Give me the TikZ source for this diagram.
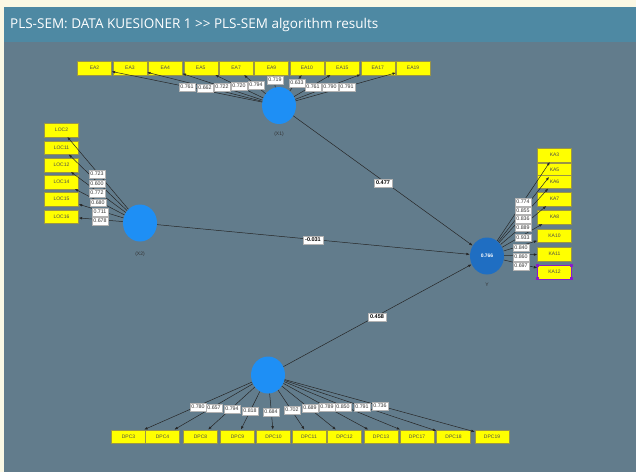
\documentclass[tikz,border=0pt]{standalone}
\usepackage{fontspec}
\usetikzlibrary{arrows.meta,shapes.geometric}
\newfontfamily\uifont{Open Sans}
\newfontfamily\lblfont{Liberation Sans}
\definecolor{frame}{HTML}{FBF8E4}
\definecolor{titlebar}{HTML}{4E89A3}
\definecolor{canvas}{HTML}{627C8C}
\definecolor{lvlight}{HTML}{1E8FF5}
\definecolor{lvdark}{HTML}{1F6EC2}
\definecolor{indfill}{HTML}{FFFF00}
\definecolor{selmark}{HTML}{8A1CC8}
\tikzset{
  ind/.style={rectangle, fill=indfill, draw=yellow!55!black, line width=0.3pt,
    minimum width=34pt, minimum height=13.5pt, inner sep=0pt,
    font=\lblfont\fontsize{5}{6}\selectfont, text=black!70},
  lv/.style={ellipse, fill=lvlight, minimum width=34pt, minimum height=37pt, inner sep=0pt},
  wt/.style={fill=white, draw=gray!60, line width=0.3pt, inner xsep=1.4pt, inner ysep=1.8pt,
    font=\lblfont\fontsize{5.3}{6}\selectfont, text=black!80},
  coef/.style={wt, font=\lblfont\bfseries\fontsize{5.5}{6}\selectfont, inner xsep=2pt, inner ysep=2pt, text=black},
  lvname/.style={font=\lblfont\fontsize{5}{6}\selectfont, text=black!80},
  link/.style={-{Latex[length=3.5pt,width=2.6pt]}, line width=0.5pt, draw=black!85},
  handle/.style={fill=selmark, minimum size=3pt, inner sep=0pt}
}
\begin{document}
\begin{tikzpicture}[x=1pt,y=-1pt]
\useasboundingbox (0,0) rectangle (636,472);
% window frame, title bar and canvas
\fill[frame] (0,0) rectangle (636,472);
\fill[titlebar] (4,7) rectangle (636,42);
\fill[canvas] (4,42) rectangle (636,472);
\node[anchor=west, text=white, font=\uifont\fontsize{13.5}{15}\selectfont, inner sep=0pt]
  (title) at (10,25) {PLS-SEM: DATA KUESIONER 1 >> PLS-SEM algorithm results};

% latent variables
\node[lv] (x1) at (279,105.5) {};
\node[lv] (x2) at (140,223) {};
\node[lv] (x3) at (268,375) {};
\node[lv, fill=lvdark] (y) at (487,256)
  {\textcolor{white}{\lblfont\bfseries\fontsize{5}{6}\selectfont 0.766}};
\node[lvname] (x1name) at (279,134) {(X1)};
\node[lvname] (x2name) at (140,254) {(X2)};
\node[lvname] (yname) at (487,285) {Y};

% top block of indicators
\foreach \n [count=\i from 0] in {EA2,EA3,EA4,EA5,EA7,EA9,EA10,EA15,EA17,EA19}
  \node[ind] (i-\n) at (94.5+35.4*\i,68) {\n};
% left block
\foreach \n/\yy in {LOC2/130,LOC11/147.5,LOC12/165,LOC14/182,LOC15/199,LOC16/216.5}
  \node[ind] (i-\n) at (61.5,\yy) {\n};
% right block
\foreach \n/\yy in {KA3/155,KA5/170,KA6/181.5,KA7/199,KA8/217,KA10/235.5,KA11/254}
  \node[ind] (i-\n) at (554.5,\yy) {\n};
\node[ind, draw=selmark] (i-KA12) at (554.5,272) {KA12};
\foreach \a in {north west,north east,south west,south east}
  \node[handle] at (i-KA12.\a) {};
% bottom block
\foreach \n/\xx in {DPC3/128.5,DPC4/162.5,DPC8/200.5,DPC9/237.5,DPC10/273.5,DPC11/309,
                    DPC12/344.5,DPC13/381,DPC17/417,DPC18/453.5,DPC19/492}
  \node[ind] (i-\n) at (\xx,436.5) {\n};

% measurement arrows
\foreach \n in {EA2,EA3,EA4,EA5,EA7,EA9,EA10,EA15,EA17,EA19}
  \draw[link] (x1) -- (i-\n);
\foreach \n in {LOC2,LOC11,LOC12,LOC14,LOC15,LOC16}
  \draw[link] (x2) -- (i-\n);
\foreach \n in {KA3,KA5,KA6,KA7,KA8,KA10,KA11,KA12}
  \draw[link] (y) -- (i-\n);
\foreach \n in {DPC3,DPC4,DPC8,DPC9,DPC10,DPC11,DPC12,DPC13,DPC17,DPC18,DPC19}
  \draw[link] (x3) -- (i-\n);

% structural paths
\draw[link] (x1) -- (y);
\draw[link] (x2) -- (y);
\draw[link] (x3) -- (y);
\node[coef] (p1) at (383,183) {0.477};
\node[coef] (p2) at (313,240) {-0.031};
\node[coef] (p3) at (377,317) {0.458};

% outer loadings
\foreach \xx/\yy/\v [count=\k] in {187/87/0.761,205/88/0.662,222/87/0.722,239/86/0.720,
    256/85/0.794,275/80/0.719,297/83/0.633,313/87/0.761,330/87/0.790,347/87/0.791}
  \node[wt] (lt\k) at (\xx,\yy) {\v};
\foreach \xx/\yy/\v [count=\k] in {97/174/0.723,97/183.5/0.600,97/193/0.772,98/202.5/0.680,
    100/212/0.711,100/221/0.678}
  \node[wt] (ll\k) at (\xx,\yy) {\v};
\foreach \xx/\yy/\v [count=\k] in {523/202/0.774,523/210.5/0.855,523/219/0.836,523/227.5/0.889,
    523/237.5/0.933,521/247.5/0.840,521/257/0.860,521/266/0.697}
  \node[wt] (lr\k) at (\xx,\yy) {\v};
\foreach \xx/\yy/\v [count=\k] in {198/407/0.780,214/408/0.657,232/409/0.794,250/411/0.818,
    271/412/0.684,292/410/0.702,310/408/0.689,327/407/0.789,343/407/0.850,362/407/0.791,
    380/406/0.736}
  \node[wt] (lb\k) at (\xx,\yy) {\v};
\end{tikzpicture}
\end{document}
